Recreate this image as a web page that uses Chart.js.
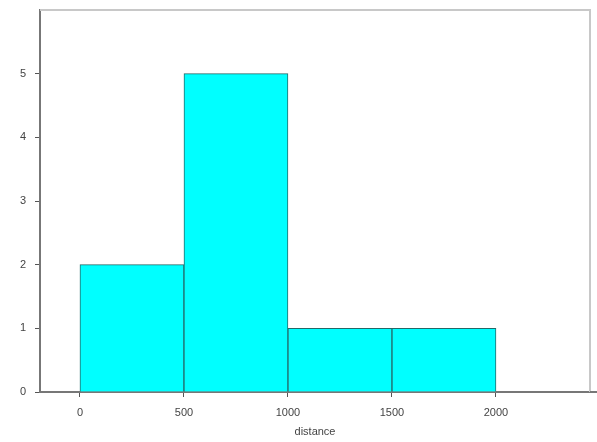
<!DOCTYPE html>
<html>
<head>
<meta charset="utf-8">
<script src="https://cdn.jsdelivr.net/npm/chart.js@4/dist/chart.umd.min.js"></script>
<style>
html,body{margin:0;padding:0;background:#fff;}
#wrap{width:597px;height:442px;}
</style>
</head>
<body>
<div id="wrap"><canvas id="c" width="597" height="442"></canvas></div>
<script>
const binStarts = [0, 500, 1000, 1500];
const binEnds = [500, 1000, 1500, 2000];
const counts = [2, 5, 1, 1];
const xTicks = [0, 500, 1000, 1500, 2000];
const yTicks = [0, 1, 2, 3, 4, 5];
const xTitle = 'distance';

const points = binStarts.map((s, i) => ({x: (s + binEnds[i]) / 2, y: counts[i]}));

const frame = {
  id: 'frame',
  afterDraw(chart) {
    const {ctx, chartArea: a} = chart;
    ctx.save();
    ctx.strokeStyle = '#c8c8c8';
    ctx.lineWidth = 2;
    ctx.beginPath();
    ctx.moveTo(a.left, a.top);
    ctx.lineTo(a.right, a.top);
    ctx.lineTo(a.right, a.bottom);
    ctx.stroke();
    ctx.strokeStyle = '#777';
    ctx.lineWidth = 2;
    ctx.beginPath();
    ctx.moveTo(a.right, a.bottom);
    ctx.lineTo(chart.width, a.bottom);
    ctx.stroke();
    ctx.restore();
  }
};

new Chart(document.getElementById('c'), {
  type: 'bar',
  data: {
    datasets: [{
      data: points,
      backgroundColor: '#00ffff',
      borderColor: '#256868',
      borderWidth: 1,
      barPercentage: 1,
      categoryPercentage: 1
    }]
  },
  options: {
    responsive: false,
    animation: false,
    layout: {padding: {top: 10, right: 7, left: 0, bottom: 0}},
    plugins: {legend: {display: false}, tooltip: {enabled: false}},
    scales: {
      x: {
        type: 'linear',
        min: -192,
        max: 2452,
        offset: false,
        afterBuildTicks: s => { s.ticks = xTicks.map(v => ({value: v})); },
        afterFit: s => { s.height = 50; s.paddingLeft = 0; s.paddingRight = 0; },
        grid: {offset: false, drawOnChartArea: false, drawTicks: true, tickLength: 5, color: '#555', lineWidth: 1},
        border: {display: true, color: '#777', width: 2},
        ticks: {color: '#444', font: {family: 'Liberation Sans, Arial', size: 11}, padding: 9, maxRotation: 0, callback: v => String(v)},
        title: {display: true, text: xTitle, color: '#444', font: {family: 'Liberation Sans, Arial', size: 11}, padding: {top: 1, bottom: 3}}
      },
      y: {
        type: 'linear',
        min: 0,
        max: 6,
        afterBuildTicks: s => { s.ticks = yTicks.map(v => ({value: v})); },
        afterFit: s => { s.width = 40; s.paddingTop = 0; s.paddingBottom = 0; },
        grid: {drawOnChartArea: false, drawTicks: true, tickLength: 5, color: '#555', lineWidth: 1},
        border: {display: true, color: '#777', width: 2},
        ticks: {color: '#444', font: {family: 'Liberation Sans, Arial', size: 11}, padding: 9, callback: v => String(v)}
      }
    }
  },
  plugins: [frame]
});
</script>
</body>
</html>
